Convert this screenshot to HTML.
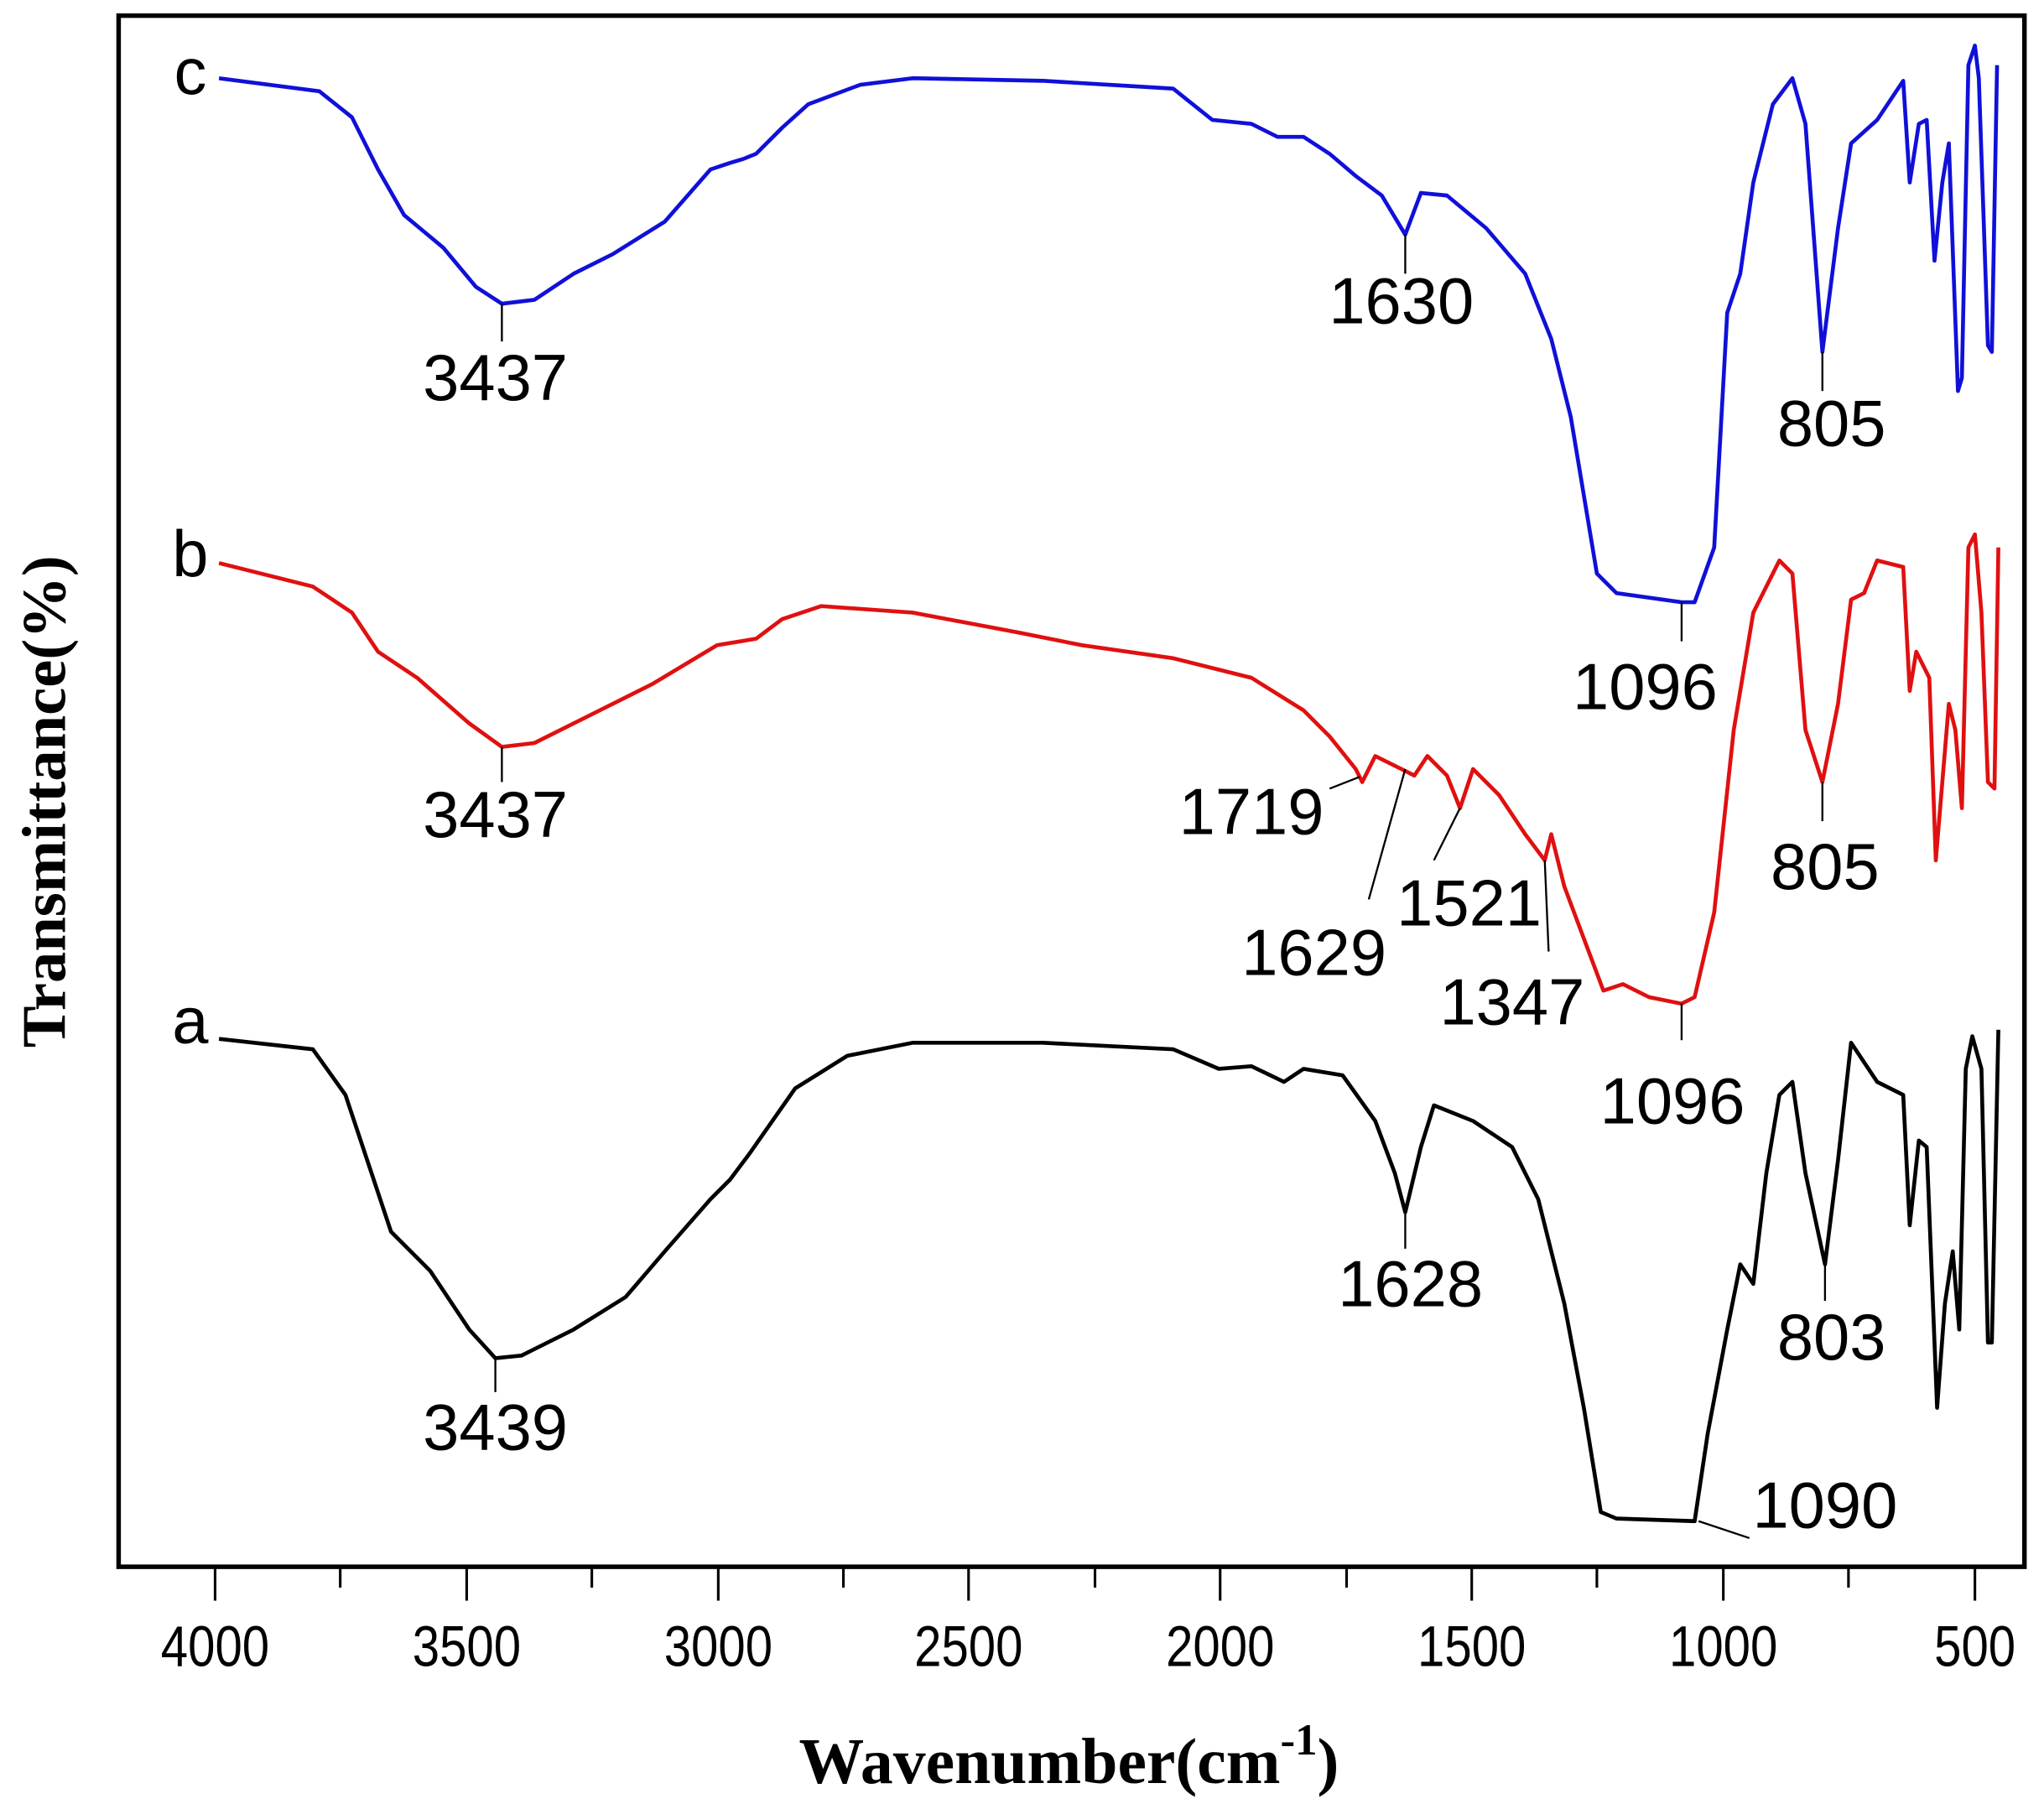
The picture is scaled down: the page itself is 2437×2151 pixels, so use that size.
<!DOCTYPE html>
<html><head><style>html,body{margin:0;padding:0;background:#fff;}svg{display:block}</style></head>
<body>
<svg width="2437" height="2151" viewBox="0 0 1568 1384" preserveAspectRatio="none" xmlns="http://www.w3.org/2000/svg">
<rect x="0" y="0" width="1568" height="1384" fill="#fff"/>
<rect x="91" y="12" width="1462" height="1190" fill="none" stroke="#000" stroke-width="3.5"/>
<g stroke="#000" stroke-width="2">
<line x1="165" y1="1202" x2="165" y2="1228"/><line x1="261" y1="1202" x2="261" y2="1218"/>
<line x1="358" y1="1202" x2="358" y2="1228"/><line x1="454" y1="1202" x2="454" y2="1218"/>
<line x1="551" y1="1202" x2="551" y2="1228"/><line x1="647" y1="1202" x2="647" y2="1218"/>
<line x1="743" y1="1202" x2="743" y2="1228"/><line x1="840" y1="1202" x2="840" y2="1218"/>
<line x1="936" y1="1202" x2="936" y2="1228"/><line x1="1033" y1="1202" x2="1033" y2="1218"/>
<line x1="1129" y1="1202" x2="1129" y2="1228"/><line x1="1225" y1="1202" x2="1225" y2="1218"/>
<line x1="1322" y1="1202" x2="1322" y2="1228"/><line x1="1418" y1="1202" x2="1418" y2="1218"/>
<line x1="1515" y1="1202" x2="1515" y2="1228"/>
</g>
<g font-family="Liberation Sans, sans-serif" font-size="44" text-anchor="middle" fill="#000">
<text transform="translate(165,1278) scale(0.85,1)">4000</text><text transform="translate(358,1278) scale(0.85,1)">3500</text><text transform="translate(551,1278) scale(0.85,1)">3000</text>
<text transform="translate(743,1278) scale(0.85,1)">2500</text><text transform="translate(936,1278) scale(0.85,1)">2000</text><text transform="translate(1129,1278) scale(0.85,1)">1500</text>
<text transform="translate(1322,1278) scale(0.85,1)">1000</text><text transform="translate(1515,1278) scale(0.85,1)">500</text>
</g>
<text x="820" y="1368" font-family="Liberation Serif, serif" font-weight="bold" font-size="50" text-anchor="middle">Wavenumber(cm<tspan dy="-22" font-size="34">-1</tspan><tspan dy="22">)</tspan></text>
<text transform="translate(50,615) rotate(-90)" font-family="Liberation Serif, serif" font-weight="bold" font-size="48" text-anchor="middle">Transmittance(%)</text>

<g fill="none" stroke-width="3" stroke-linejoin="round">
<polyline stroke="#1010d8" points="168,60 245,70 270,90 290,130 310,165 340,190 365,220 385,233 410,230 440,210 470,195 510,170 545,130 560,125 570,122 580,118 600,98 620,80 660,65 700,60 800,62 900,68 930,92 960,95 980,105 1000,105 1020,118 1040,135 1060,150 1078,180 1090,148 1110,150 1140,175 1170,210 1190,260 1205,320 1215,380 1225,440 1240,455 1290,462 1300,462 1315,420 1325,240 1335,210 1345,140 1360,80 1375,60 1385,95 1398,270 1410,175 1420,110 1440,92 1460,62 1465,140 1472,95 1478,92 1484,200 1490,140 1495,110 1502,300 1505,290 1510,50 1515,35 1518,60 1525,265 1528,270 1532,50"/>
<polyline stroke="#e01010" points="168,432 240,450 270,470 290,500 320,520 360,555 385,573 410,570 450,550 500,525 550,495 580,490 600,475 630,465 700,470 780,485 830,495 900,505 960,520 1000,545 1020,565 1040,590 1045,600 1055,580 1065,585 1075,590 1085,595 1095,580 1110,595 1120,620 1130,590 1150,610 1170,640 1185,660 1190,640 1200,680 1215,720 1230,760 1245,755 1265,765 1290,770 1300,765 1315,700 1330,560 1345,470 1365,430 1375,440 1385,560 1398,600 1410,540 1420,460 1430,455 1440,430 1460,435 1465,530 1470,500 1480,520 1485,660 1490,600 1495,540 1500,560 1505,620 1510,420 1515,410 1520,470 1525,600 1530,605 1533,420"/>
<polyline stroke="#000" points="168,797 240,805 265,840 285,900 300,945 330,975 360,1020 380,1042 400,1040 440,1020 480,995 510,960 545,920 560,905 575,885 610,835 650,810 700,800 800,800 900,805 935,820 960,818 985,830 1000,820 1030,825 1055,860 1070,900 1078,930 1090,880 1100,848 1130,860 1160,880 1180,920 1200,1000 1215,1080 1228,1160 1240,1165 1300,1167 1310,1100 1325,1020 1335,970 1345,985 1355,900 1365,840 1375,830 1385,900 1400,970 1410,890 1420,800 1440,830 1460,840 1465,940 1472,875 1478,880 1486,1080 1492,1000 1498,960 1503,1020 1508,820 1513,795 1520,820 1525,1030 1528,1030 1533,790"/>
</g>
<g stroke="#000" stroke-width="1.5">
<line x1="385" y1="233" x2="385" y2="262"/><line x1="1078" y1="180" x2="1078" y2="210"/>
<line x1="1290" y1="462" x2="1290" y2="492"/><line x1="1398" y1="270" x2="1398" y2="300"/>
<line x1="385" y1="573" x2="385" y2="600"/><line x1="1020" y1="605" x2="1043" y2="596"/>
<line x1="1078" y1="590" x2="1050" y2="690"/><line x1="1120" y1="620" x2="1100" y2="660"/>
<line x1="1185" y1="660" x2="1188" y2="730"/><line x1="1290" y1="770" x2="1290" y2="798"/>
<line x1="1398" y1="600" x2="1398" y2="630"/><line x1="380" y1="1042" x2="380" y2="1068"/>
<line x1="1078" y1="930" x2="1078" y2="958"/><line x1="1400" y1="970" x2="1400" y2="998"/>
<line x1="1303" y1="1167" x2="1342" y2="1180"/>
</g>
<g font-family="Liberation Sans, sans-serif" font-size="50" fill="#000" text-anchor="middle">
<text x="146" y="72">c</text><text x="146" y="442">b</text><text x="146" y="800">a</text>
<text x="380" y="307">3437</text><text x="1075" y="248">1630</text><text x="1262" y="544">1096</text>
<text x="1405" y="342">805</text><text x="380" y="642">3437</text><text x="960" y="640">1719</text>
<text x="1008" y="748">1629</text><text x="1127" y="710">1521</text><text x="1160" y="786">1347</text>
<text x="1283" y="862">1096</text><text x="1400" y="682">805</text><text x="380" y="1112">3439</text>
<text x="1082" y="1002">1628</text><text x="1405" y="1043">803</text><text x="1400" y="1172">1090</text>
</g>
</svg>
</body></html>
